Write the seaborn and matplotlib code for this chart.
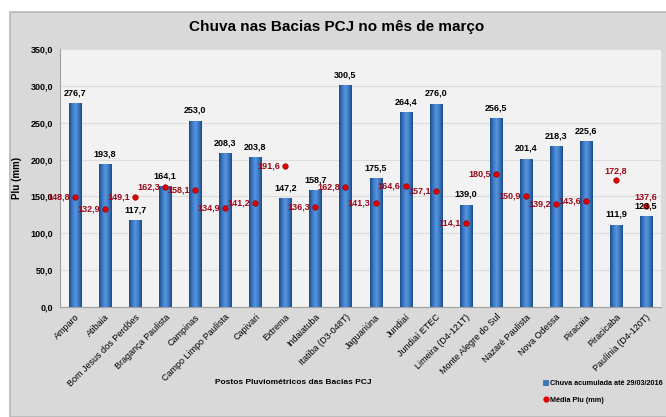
import matplotlib
matplotlib.use("Agg")
import matplotlib.pyplot as plt
import seaborn as sns
import numpy as np
import pandas as pd
from matplotlib.patches import Rectangle
from matplotlib.lines import Line2D
from matplotlib.colors import LinearSegmentedColormap

categories = ["Amparo", "Atibaia", "Bom Jesus dos Perdões", "Bragança Paulista", "Campinas",
              "Campo Limpo Paulista", "Capivari", "Extrema", "Indaiatuba", "Itatiba (D3-048T)",
              "Jaguariúna", "Jundiaí", "Jundiaí ETEC", "Limeira (D4-121T)", "Monte Alegre do Sul",
              "Nazaré Paulista", "Nova Odessa", "Piracaia", "Piracicaba", "Paulínia (D4-120T)"]
chuva = [276.7, 193.8, 117.7, 164.1, 253.0, 208.3, 203.8, 147.2, 158.7, 300.5,
         175.5, 264.4, 276.0, 139.0, 256.5, 201.4, 218.3, 225.6, 111.9, 123.5]
media = [148.8, 132.9, 149.1, 162.3, 158.1, 134.9, 141.2, 191.6, 136.3, 162.8,
         141.3, 164.6, 157.1, 114.1, 180.5, 150.9, 139.2, 143.6, 172.8, 137.6]
yticks = [0, 50, 100, 150, 200, 250, 300, 350]

df = pd.DataFrame({"Posto": categories, "Chuva": chuva, "Media": media})

sns.set_theme(style="white")
plt.rcParams["font.family"] = ["Liberation Sans", "DejaVu Sans"]
plt.rcParams["text.color"] = "black"
plt.rcParams["axes.labelcolor"] = "black"
plt.rcParams["xtick.color"] = "black"
plt.rcParams["ytick.color"] = "black"

fig = plt.figure(figsize=(6.66, 4.17), dpi=100)
fig.patch.set_facecolor("white")
frame = Rectangle((10/666, 0), 1.0, (417-12)/417, transform=fig.transFigure,
                  facecolor="#d9d9d9", edgecolor="#b8b8b8", linewidth=1.2, zorder=-10)
fig.patches.append(frame)

ax = fig.add_axes([60/666, 1-307/417, 601/666, (307-49)/417])
ax.set_zorder(1)
ax.set_facecolor("#f2f2f2")

sns.barplot(data=df, x="Posto", y="Chuva", color="#2f67b1", width=0.4, ax=ax,
            edgecolor="#1f4b85", linewidth=0.5, zorder=3)

# cylinder-like gradient on bars
cmap = LinearSegmentedColormap.from_list("bar", ["#1d4a86", "#3a78c4", "#5a95dc", "#3a78c4", "#1d4a86"])
grad = np.linspace(0, 1, 64).reshape(1, -1)
for p in list(ax.patches):
    x0, y0 = p.get_x(), p.get_y()
    w, h = p.get_width(), p.get_height()
    im = ax.imshow(grad, cmap=cmap, extent=[x0, x0 + w, y0, y0 + h], aspect="auto", zorder=4)
    im.set_clip_path(p)

sns.stripplot(data=df, x="Posto", y="Media", jitter=False, color="#e00000", size=4,
              edgecolor="#900000", linewidth=0.4, ax=ax, zorder=6)

ax.set_xlim(-0.5, len(categories) - 0.5)
ax.set_ylim(0, 350)
ax.set_yticks(yticks)
ax.set_yticklabels([f"{v:.1f}".replace(".", ",") for v in yticks], fontsize=6.5, fontweight="bold")
ax.yaxis.grid(True, color="#dcdcdc", linewidth=0.8, zorder=0)
ax.set_axisbelow(True)
for s in ["top", "right"]:
    ax.spines[s].set_visible(False)
ax.spines["left"].set_color("#a0a0a0")
ax.spines["bottom"].set_color("#a0a0a0")
ax.spines["left"].set_linewidth(0.8)
ax.spines["bottom"].set_linewidth(0.8)
ax.tick_params(axis="y", length=3, color="#a0a0a0", labelcolor="black", pad=2)
ax.set_xticks(range(len(categories)))
ax.set_xticklabels(categories, rotation=45, ha="right", rotation_mode="anchor", fontsize=6.5)
ax.set_xticks(np.arange(len(categories) + 1) - 0.5, minor=True)
ax.tick_params(axis="x", which="major", length=0, pad=4, labelcolor="black")
ax.tick_params(axis="x", which="minor", length=3, color="#a0a0a0")

ax.set_ylabel("Plu (mm)", fontsize=7, fontweight="bold", labelpad=6)
ax.set_xlabel("")

# labels
for i, v in enumerate(chuva):
    ax.annotate(f"{v:.1f}".replace(".", ","), (i, v), xytext=(0, 4), textcoords="offset points",
                ha="center", va="bottom", fontsize=6.5, fontweight="bold", color="black", zorder=7)
for i, v in enumerate(media):
    lab = f"{v:.1f}".replace(".", ",")
    if categories[i] in ("Piracicaba", "Paulínia (D4-120T)"):
        ax.annotate(lab, (i, v), xytext=(0, 3), textcoords="offset points", ha="center", va="bottom",
                    fontsize=6.5, fontweight="bold", color="#9a0a1a", zorder=7)
    else:
        ax.annotate(lab, (i, v), xytext=(-3.5, 0), textcoords="offset points", ha="right", va="center",
                    fontsize=6.5, fontweight="bold", color="#9a0a1a", zorder=7)

fig.text(337/666, 1-27/417, "Chuva nas Bacias PCJ no mês de março", ha="center", va="center",
         fontsize=11, fontweight="bold", color="black")
fig.text(293/666, 1-383/417, "Postos Pluviométricos das Bacias PCJ", ha="center", va="center",
         fontsize=6, fontweight="bold", color="black")

handles = [Rectangle((0, 0), 1, 1, facecolor="#3a78c4", edgecolor="#1f4b85", linewidth=0.4),
           Line2D([], [], marker="o", linestyle="none", color="#e00000", markersize=3.5)]
leg = fig.legend(handles, ["Chuva acumulada até 29/03/2016", "Média Plu (mm)"],
                 loc="center right", bbox_to_anchor=(663/666, 1-392/417), frameon=False,
                 prop={"size": 5.2, "weight": "bold"}, handlelength=0.7, handleheight=0.7,
                 handletextpad=0.3, labelspacing=1.3, borderaxespad=0, borderpad=0,
                 alignment="left")

fig.savefig("out.png", dpi=100)
